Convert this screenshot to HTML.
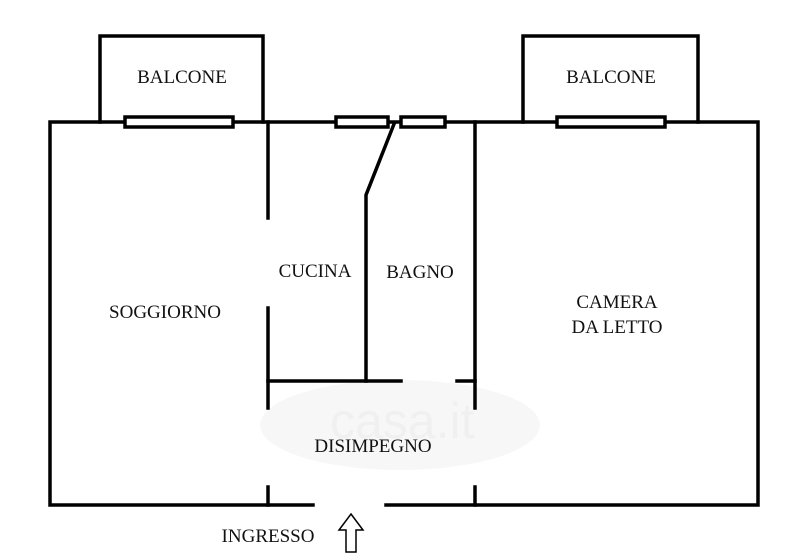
<!DOCTYPE html>
<html><head><style>body{margin:0;background:#fff}svg{display:block}</style></head><body>
<svg width="800" height="559" xmlns="http://www.w3.org/2000/svg">
<rect width="800" height="559" fill="#fff"/>
<ellipse cx="400" cy="425" rx="140" ry="45" fill="#f7f7f7"/>
<text x="330" y="438" font-family="Liberation Sans,sans-serif" font-size="50" fill="#f0f0f0">casa.it</text>
<g stroke="#000" stroke-width="3.5" fill="none" stroke-linecap="square">
<path d="M100 122V36H263V122"/>
<path d="M523 122V36H698V122"/>
<path d="M50 122H758V505H386M313 505H50V122"/>
<path d="M268 122V218M268 308V408M268 487V505"/>
<path d="M475 122V408M475 487V505"/>
<path d="M268 381H401M457 381H475"/>
<path d="M366 381V195L394 124"/>
</g>
<g stroke="#000" stroke-width="3.5" fill="#fff">
<rect x="125" y="117" width="108" height="10"/>
<rect x="557" y="117" width="108" height="10"/>
<rect x="336" y="117" width="52" height="10"/>
<rect x="401" y="117" width="44" height="10"/>
</g>
<path d="M351 514L363 530H356V552H346V530H339Z" fill="#fff" stroke="#000" stroke-width="1.5"/>
<g font-family="Liberation Serif,serif" font-size="19" fill="#111" text-anchor="middle">
<text x="182" y="83">BALCONE</text>
<text x="611" y="83">BALCONE</text>
<text x="315" y="277">CUCINA</text>
<text x="420" y="278">BAGNO</text>
<text x="165" y="318">SOGGIORNO</text>
<text x="617" y="308">CAMERA</text>
<text x="617" y="333">DA LETTO</text>
<text x="373" y="452">DISIMPEGNO</text>
<text x="268" y="542">INGRESSO</text>
</g>
</svg>
</body></html>
